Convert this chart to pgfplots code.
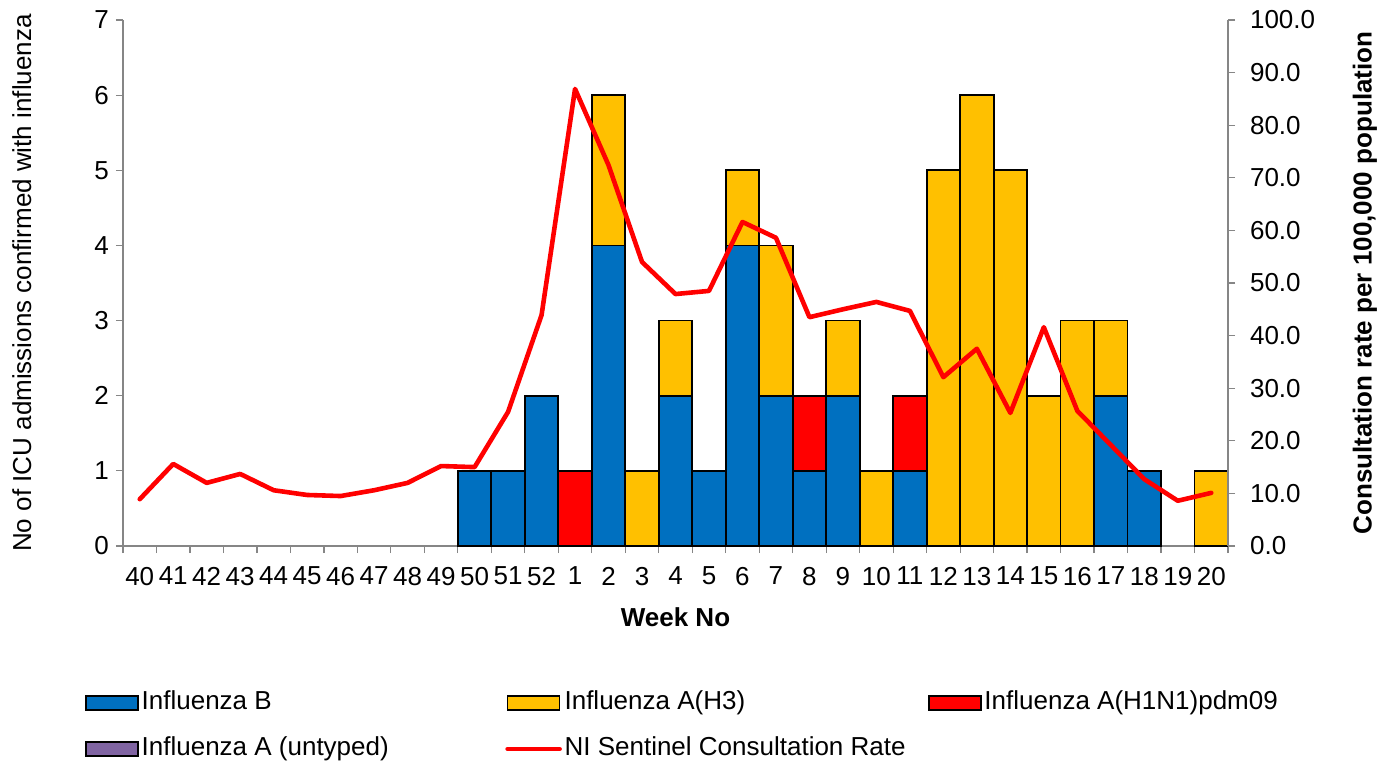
\documentclass[border=0pt]{standalone}
\usepackage{fontspec}
\setmainfont{Liberation Sans}
\usepackage{pgfplots}
\usepackage{pgfplotstable}
\pgfplotsset{compat=1.18}

\definecolor{fluB}{HTML}{0070C0}
\definecolor{fluH3}{HTML}{FFC000}
\definecolor{fluH1}{HTML}{FF0000}
\definecolor{fluUT}{HTML}{8064A2}
\definecolor{axisgrey}{HTML}{868686}

% ICU admissions by type, and NI sentinel consultation rate per 100,000
\pgfplotstableread{
x  week B  H3 H1 UT rate
0  40   0  0  0  0  8.9
1  41   0  0  0  0  15.6
2  42   0  0  0  0  12.0
3  43   0  0  0  0  13.7
4  44   0  0  0  0  10.6
5  45   0  0  0  0  9.7
6  46   0  0  0  0  9.5
7  47   0  0  0  0  10.6
8  48   0  0  0  0  12.0
9  49   0  0  0  0  15.2
10 50   1  0  0  0  15.0
11 51   1  0  0  0  25.5
12 52   2  0  0  0  43.9
13 1    0  0  1  0  86.9
14 2    4  2  0  0  72.4
15 3    0  1  0  0  54.0
16 4    2  1  0  0  47.9
17 5    1  0  0  0  48.5
18 6    4  1  0  0  61.6
19 7    2  2  0  0  58.6
20 8    1  0  1  0  43.5
21 9    2  1  0  0  45.0
22 10   0  1  0  0  46.4
23 11   1  0  1  0  44.7
24 12   0  5  0  0  32.1
25 13   0  6  0  0  37.5
26 14   0  5  0  0  25.3
27 15   0  2  0  0  41.6
28 16   0  3  0  0  25.7
29 17   2  1  0  0  19.2
30 18   1  0  0  0  12.7
31 19   0  0  0  0  8.6
32 20   0  1  0  0  10.1
}\datatable

\newcommand{\chartfont}{\fontsize{13}{15.6}\selectfont}

\pgfplotsset{
  base/.style={
    scale only axis, width=552.5pt, height=263pt,
    xmin=-0.5, xmax=32.5,
    axis line style={axisgrey, line width=0.6pt},
    tick style={axisgrey, line width=0.6pt},
    tick align=outside,
    major tick length=3.5pt, minor tick length=3.5pt,
    tick label style={font=\chartfont, black},
    label style={font=\chartfont},
    /pgf/number format/assume math mode=true,
  },
  barimg/.style={legend image code/.code={
      \draw[##1, line width=0.8pt] (0pt,-3.4pt) rectangle (26pt,3.4pt);}},
  lineimg/.style={legend image code/.code={
      \draw[##1] (0pt,0pt) -- (26pt,0pt);}},
}

\begin{document}
\begin{tikzpicture}
\path[use as bounding box] (-61.5pt,-107.5pt) rectangle (635pt,273pt);

\begin{axis}[
  base,
  ybar stacked, bar width=1,
  ymin=0, ymax=7, ytick={0,...,7},
  axis x line*=bottom, axis y line*=left,
  xtick={0,...,32},
  xticklabels={40,41,42,43,44,45,46,47,48,49,50,51,52,1,2,3,4,5,6,7,8,9,10,11,12,13,14,15,16,17,18,19,20},
  xticklabel style={yshift=-3.5pt},
  major x tick style={draw=none},
  minor xtick={-0.5,0.5,...,32.5},
  ylabel={No of ICU admissions confirmed with influenza},
  y label style={at={(axis description cs:-0.0915,0.5)}, anchor=center},
  xlabel={\bfseries Week No},
  x label style={at={(axis description cs:0.5,-0.135)}, anchor=center},
]
\addplot[fill=fluB, draw=black, line width=0.9pt] table[x=x, y=B] {\datatable};
\addplot[fill=fluH3, draw=black, line width=0.9pt] table[x=x, y=H3] {\datatable};
\addplot[fill=fluH1, draw=black, line width=0.9pt] table[x=x, y=H1] {\datatable};
\addplot[fill=fluUT, draw=black, line width=0.9pt] table[x=x, y=UT] {\datatable};
\end{axis}

\begin{axis}[
  base,
  ymin=0, ymax=100, ytick={0,10,...,100},
  axis x line=none, axis y line*=right,
  yticklabel style={xshift=4pt, /pgf/number format/.cd, fixed, fixed zerofill, precision=1},
  ylabel={\bfseries Consultation rate per 100,000 population},
  y label style={at={(axis description cs:1.124,0.5)}, anchor=center, rotate=0},
  legend columns=3,
  legend style={at={(axis description cs:-0.0344,-0.2538)}, anchor=north west,
    draw=none, inner sep=0pt, font=\chartfont,
    row sep=0pt, cells={anchor=west},
    nodes={text height=9.5pt, text depth=2.5pt, inner ysep=5.5pt, inner xsep=1.33pt},
    /tikz/every odd column/.append style={column sep=0pt}},
]
\addlegendimage{barimg, fill=fluB, draw=black}
\addlegendentry{\makebox[180.5pt][l]{Influenza B}}
\addlegendimage{barimg, fill=fluH3, draw=black}
\addlegendentry{\makebox[180.5pt][l]{Influenza A(H3)}}
\addlegendimage{barimg, fill=fluH1, draw=black}
\addlegendentry{\makebox[180.5pt][l]{Influenza A(H1N1)pdm09}}
\addlegendimage{barimg, fill=fluUT, draw=black}
\addlegendentry{\makebox[180.5pt][l]{Influenza A (untyped)}}
\addplot[lineimg, fluH1, line width=2.3pt, line join=round, line cap=round]
  table[x=x, y=rate] {\datatable};
\addlegendentry{\makebox[180.5pt][l]{NI Sentinel Consultation Rate}}
\end{axis}
\end{tikzpicture}
\end{document}
